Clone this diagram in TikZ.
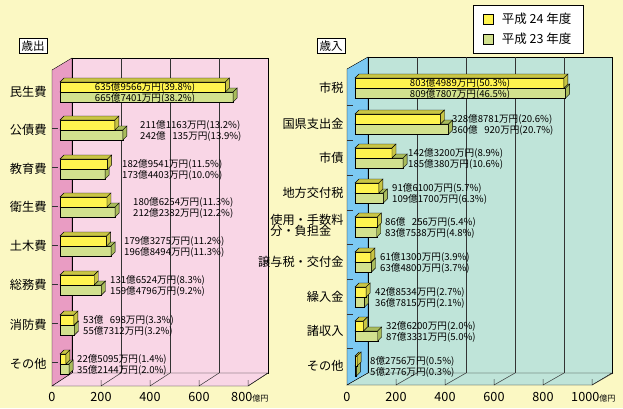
\documentclass[tikz,border=0pt]{standalone}
\usepackage{fontspec}
\setmainfont{Noto Sans CJK JP}
\usetikzlibrary{positioning}
\definecolor{bgcol}{HTML}{FBF8C3}
\definecolor{pinkwall}{HTML}{F9D6E6}
\definecolor{pinkside}{HTML}{E99CC3}
\definecolor{tealwall}{HTML}{BFE4D9}
\definecolor{blueside}{HTML}{7CC9F2}
\definecolor{barY}{HTML}{FFF44F}
\definecolor{barG}{HTML}{D2E18E}
\definecolor{shadeY}{HTML}{C9C544}
\definecolor{shadeG}{HTML}{A9BC5C}
\tikzset{
  face/.style={draw=black, line width=0.4pt},
  catlabel/.style={font=\fontsize{10}{12}\selectfont, scale=1.22, anchor=east, inner sep=1pt},
  vallabel/.style={font=\fontsize{8}{9}\selectfont, scale=1.2, inner sep=0pt},
  ticklabel/.style={font=\fontsize{11}{12}\selectfont, scale=1.15, inner sep=0pt},
  titlebox/.style={draw=black, fill=white, font=\fontsize{10}{12}\selectfont, scale=1.15, inner sep=2pt},
  gridline/.style={line width=0.5pt, black!80}
}
% pair of 3D bars: x0, yc, yellow value, green value
\newcommand\barpair[4]{%
  \pgfmathsetmacro\xg{#1+0.26*#4}%
  \pgfmathsetmacro\xy{#1+0.26*#3}%
  \filldraw[fill=barG, face] (#1,#2) rectangle (\xg,#2+10);
  \filldraw[fill=shadeG, face] (#1,#2) -- (#1+4,#2-4) -- (\xg+4,#2-4) -- (\xg,#2) -- cycle;
  \filldraw[fill=shadeG, face] (\xg,#2) -- (\xg+4,#2-4) -- (\xg+4,#2+6) -- (\xg,#2+10) -- cycle;
  \filldraw[fill=barY, face] (#1,#2-10) rectangle (\xy,#2);
  \filldraw[fill=shadeY, face] (#1,#2-10) -- (#1+4,#2-14) -- (\xy+4,#2-14) -- (\xy,#2-10) -- cycle;
  \filldraw[fill=shadeY, face] (\xy,#2-10) -- (\xy+4,#2-14) -- (\xy+4,#2-4) -- (\xy,#2) -- cycle;
}
\begin{document}
\begin{tikzpicture}[x=1pt, y=-1pt]
  \useasboundingbox[fill=bgcol] (0,0) rectangle (623,408);

  % ---- left chart: walls
  \filldraw[fill=pinkside, face] (52,70) -- (72,58) -- (72,373) -- (52,386) -- cycle;
  \filldraw[fill=pinkwall, face] (72,58) rectangle (268,373);
  \filldraw[fill=pinkwall, face] (52,386) -- (72,373) -- (268,373) -- (248,386) -- cycle;
  \foreach \k in {1,...,3}
    \draw[gridline] (72+49*\k,58) -- (72+49*\k,373);
  \foreach \k in {1,...,4}
    \draw[gridline] (52+49*\k,380) -- (52+49*\k,386) -- (72+49*\k,373);
  \foreach \k in {1,...,7}
    \draw[gridline] (52,89+39*\k) -- (58,89+39*\k);

  % ---- right chart: walls
  \filldraw[fill=blueside, face] (347,69) -- (368,57) -- (368,373) -- (347,385) -- cycle;
  \filldraw[fill=tealwall, face] (368,57) rectangle (612,373);
  \filldraw[fill=tealwall, face] (347,385) -- (368,373) -- (612,373) -- (592,385) -- cycle;
  \foreach \k in {1,...,4}
    \draw[gridline] (368+49*\k,57) -- (368+49*\k,373);
  \foreach \k in {1,...,5}
    \draw[gridline] (347+49*\k,379) -- (347+49*\k,385) -- (368+49*\k,373);
  \foreach \k in {1,...,8}
    \draw[gridline] (347,71+34.7*\k) -- (353,71+34.7*\k);

  % ---- expenditure bars
  \foreach \yc/\va/\vb in {92/636/666, 130/211.1/242.0, 169/182.9/173.4, 207/180.6/212.2,
      246/179.3/196.8, 285/131.7/159.5, 325/53.1/55.7, 364/22.5/35.2}
    \barpair{60}{\yc}{\va}{\vb};
  \foreach \yc/\name/\lx/\an/\ta/\tb [count=\i] in {
      92/民生費/145/center/635億9566万円(39.8\%)/665億7401万円(38.2\%),
      130/公債費/140/west/211億1163万円(13.2\%)/242億\ \ \ 135万円(13.9\%),
      169/教育費/122/west/182億9541万円(11.5\%)/173億4403万円(10.0\%),
      207/衛生費/133/west/180億6254万円(11.3\%)/212億2382万円(12.2\%),
      246/土木費/124/west/179億3275万円(11.2\%)/196億8494万円(11.3\%),
      285/総務費/110/west/131億6524万円(8.3\%)/159億4796万円(9.2\%),
      325/消防費/83/west/53億\ \ \ 698万円(3.3\%)/55億7312万円(3.2\%),
      364/その他/77/west/22億5095万円(1.4\%)/35億2144万円(2.0\%)} {
    \node[catlabel] (out\i) at (48,\yc) {\name};
    \node[vallabel, anchor=\an] (outa\i) at (\lx,\yc-5) {\ta};
    \node[vallabel, anchor=\an] (outb\i) at (\lx,\yc+6) {\tb};
  }

  % ---- revenue bars
  \foreach \yc/\va/\vb in {88/803.5/809.8, 124/328.9/360.1, 158/142.3/185.0, 193/91.6/109.2,
      227/86.0/83.8, 262/61.1/63.5, 297/42.9/36.8, 331/32.6/87.3, 366/8.3/5.3}
    \barpair{355}{\yc}{\va}{\vb};
  \foreach \yc/\name/\lx/\an/\ta/\tb [count=\i] in {
      88/市税/460/center/803億4989万円(50.3\%)/809億7807万円(46.5\%),
      124/国県支出金/452/west/328億8781万円(20.6\%)/360億\ \ \ 920万円(20.7\%),
      158/市債/408/west/142億3200万円(8.9\%)/185億380万円(10.6\%),
      193/地方交付税/392/west/91億6100万円(5.7\%)/109億1700万円(6.3\%),
      227/{\begin{tabular}{@{}l@{}}使用・手数料\\[-3pt]分・負担金\end{tabular}}/385/west/86億\ \ \ 256万円(5.4\%)/83億7538万円(4.8\%),
      262/譲与税・交付金/380/west/61億1300万円(3.9\%)/63億4800万円(3.7\%),
      297/繰入金/375/west/42億8534万円(2.7\%)/36億7815万円(2.1\%),
      331/諸収入/386/west/32億6200万円(2.0\%)/87億3331万円(5.0\%),
      366/その他/370/west/8億2756万円(0.5\%)/5億2776万円(0.3\%)} {
    \node[catlabel] (in\i) at (345,\yc) {\name};
    \node[vallabel, anchor=\an] (ina\i) at (\lx,\yc-5) {\ta};
    \node[vallabel, anchor=\an] (inb\i) at (\lx,\yc+6) {\tb};
  }

  % ---- axis numbers
  \foreach \v [count=\k from 0] in {0,200,400,600}
    \node[ticklabel] (lx\k) at (52+49*\k,397) {\v};
  \node[ticklabel, anchor=west] (lx4) at (231,397) {800{\fontsize{7}{8}\selectfont 億円}};
  \foreach \v [count=\k from 0] in {0,200,400,600,800}
    \node[ticklabel] (rx\k) at (347+49*\k,397) {\v};
  \node[ticklabel, anchor=west] (rx5) at (571,397) {1000{\fontsize{7}{8}\selectfont 億円}};

  % ---- titles and legend
  \node[titlebox] (outtitle) at (33,46) {歳出};
  \node[titlebox] (intitle) at (331,46) {歳入};
  \draw[fill=white] (473,5) rectangle (583,53);
  \node[draw=black, line width=0.8pt, fill=barY, minimum size=10pt, inner sep=0pt] (key24) at (488,19) {};
  \node[draw=black, line width=0.8pt, fill=barG, minimum size=10pt, inner sep=0pt] (key23) at (488,39) {};
  \node[font=\fontsize{10}{12}\selectfont, scale=1.25, right=4pt of key24] (lab24) {平成 24 年度};
  \node[font=\fontsize{10}{12}\selectfont, scale=1.25, right=4pt of key23] (lab23) {平成 23 年度};
\end{tikzpicture}
\end{document}
